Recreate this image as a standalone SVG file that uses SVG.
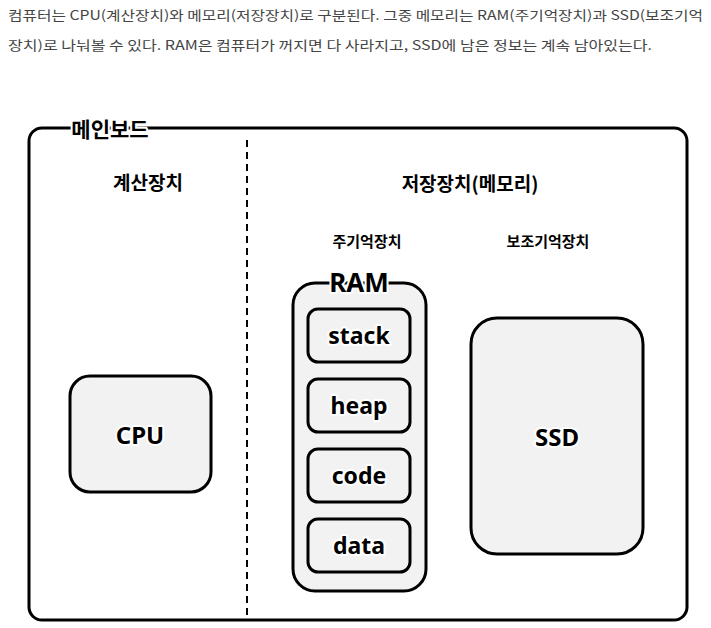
<svg xmlns="http://www.w3.org/2000/svg" width="711" height="628" viewBox="0 0 711 628">
<style>
.body{font-family:"Noto Sans CJK KR","Noto Sans",sans-serif;font-size:13px;fill:#444;}
.box{fill:#f2f2f2;stroke:#000;stroke-width:3;}
.lbl{font-family:"Noto Sans","Noto Sans CJK KR",sans-serif;font-weight:bold;fill:#000;text-anchor:middle;paint-order:stroke;stroke:#fff;stroke-width:4;stroke-linejoin:round;}
.hd{font-family:"Noto Sans CJK KR",sans-serif;font-weight:bold;fill:#000;text-anchor:middle;}
</style>
<rect width="711" height="628" fill="#fff"/>
<text class="body" x="8" y="20" textLength="695" lengthAdjust="spacingAndGlyphs">컴퓨터는 CPU(계산장치)와 메모리(저장장치)로 구분된다. 그중 메모리는 RAM(주기억장치)과 SSD(보조기억</text>
<text class="body" x="8" y="50" textLength="644" lengthAdjust="spacingAndGlyphs">장치)로 나눠볼 수 있다. RAM은 컴퓨터가 꺼지면 다 사라지고, SSD에 남은 정보는 계속 남아있는다.</text>

<g id="mainboard">
<rect x="29" y="128" width="658" height="492" rx="13" fill="#fff" stroke="#000" stroke-width="3"/>
<text class="lbl" x="110" y="137" font-size="21" stroke-width="8">메인보드</text>
</g>

<g id="connectors">
<line x1="247" y1="140" x2="247" y2="620" stroke="#000" stroke-width="2" stroke-dasharray="7 5"/>
</g>

<g id="headers">
<text class="hd" x="148" y="190" font-size="19">계산장치</text>
<text class="hd" x="470" y="191" font-size="19">저장장치(메모리)</text>
<text class="hd" x="367" y="247" font-size="15" font-weight="500">주기억장치</text>
<text class="hd" x="548" y="247" font-size="15" font-weight="500">보조기억장치</text>
</g>

<g id="cpu">
<rect class="box" x="70" y="376" width="141" height="116" rx="20"/>
<text class="lbl" x="140" y="444" font-size="24">CPU</text>
</g>

<g id="ram">
<rect class="box" x="293" y="283" width="133" height="308" rx="22"/>
<text class="lbl" x="359" y="292" font-size="26" stroke-width="8">RAM</text>
</g>

<g id="stack">
<rect class="box" x="308" y="309" width="102" height="53" rx="10"/>
<text class="lbl" x="359" y="344" font-size="23">stack</text>
</g>
<g id="heap">
<rect class="box" x="308" y="379" width="102" height="53" rx="10"/>
<text class="lbl" x="359" y="414" font-size="23">heap</text>
</g>
<g id="code">
<rect class="box" x="308" y="449" width="102" height="53" rx="10"/>
<text class="lbl" x="359" y="484" font-size="23">code</text>
</g>
<g id="data">
<rect class="box" x="308" y="519" width="102" height="53" rx="10"/>
<text class="lbl" x="359" y="554" font-size="23">data</text>
</g>

<g id="ssd">
<rect class="box" x="471" y="318" width="172" height="236" rx="26"/>
<text class="lbl" x="557" y="446" font-size="24">SSD</text>
</g>
</svg>
